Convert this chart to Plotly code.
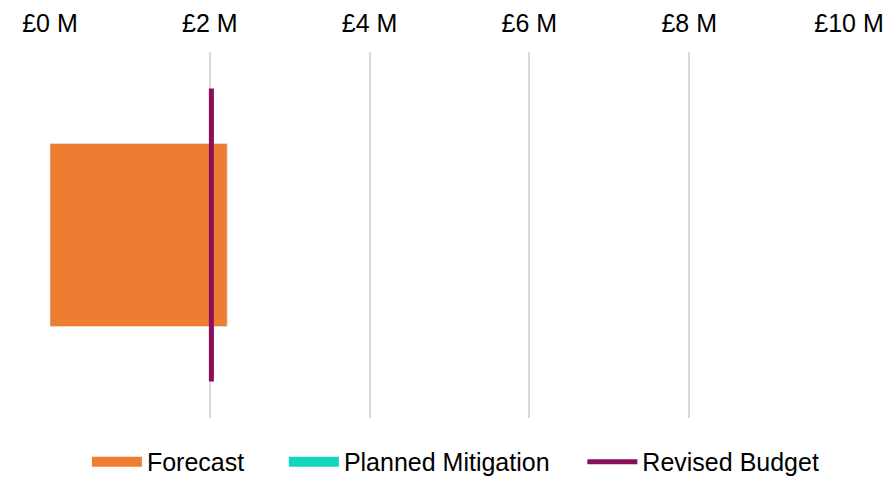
import plotly.graph_objects as go

# Data (values in £ millions)
category = ["Budget"]
forecast = [2.22]
planned_mitigation = [0.0]
revised_budget = [2.02]
tick_values = [0, 2, 4, 6, 8, 10]
tick_labels = ["£0 M", "£2 M", "£4 M", "£6 M", "£8 M", "£10 M"]
series_names = ["Forecast", "Planned Mitigation", "Revised Budget"]

ORANGE = "#ED7D31"
TEAL = "#12D6C0"
PURPLE = "#8B0E5B"
FONT = "Liberation Sans, Arial, sans-serif"

fig = go.Figure()

# bars (single category at y=0)
fig.add_trace(go.Bar(y=[0], x=forecast, orientation="h", marker_color=ORANGE,
                     width=0.5, name=series_names[0], showlegend=False))
fig.add_trace(go.Bar(y=[0], x=planned_mitigation, base=forecast, orientation="h",
                     marker_color=TEAL, width=0.5, name=series_names[1], showlegend=False))

# revised budget vertical line across the category band
fig.add_trace(go.Scatter(x=[revised_budget[0], revised_budget[0]], y=[-0.4, 0.4],
                         mode="lines", line=dict(color=PURPLE, width=5),
                         name=series_names[2], showlegend=False))

# legend entries (trailing spaces widen the gap between entries)
fig.add_trace(go.Scatter(x=[None], y=[None], mode="lines",
                         line=dict(color=ORANGE, width=16), name=series_names[0] + "     "))
fig.add_trace(go.Scatter(x=[None], y=[None], mode="lines",
                         line=dict(color=TEAL, width=16), name=series_names[1] + "    "))
fig.add_trace(go.Scatter(x=[None], y=[None], mode="lines",
                         line=dict(color=PURPLE, width=5), name=series_names[2]))

fig.update_layout(
    width=886, height=477,
    margin=dict(l=50, r=37, t=52, b=59, autoexpand=False),
    paper_bgcolor="white", plot_bgcolor="white",
    barmode="overlay",
    font=dict(family=FONT, size=25, color="#000000"),
    xaxis=dict(side="top", range=[0, 10], tickvals=tick_values, ticktext=tick_labels,
               showgrid=True, gridcolor="#D9D9D9", gridwidth=1.6, zeroline=False,
               showline=False, ticks="", tickfont=dict(size=25), ticklabelstandoff=14),
    yaxis=dict(range=[-0.5, 0.5], showticklabels=False, showgrid=False,
               zeroline=False, showline=False, ticks=""),
    legend=dict(orientation="h", x=0.508, xanchor="center", y=-0.12, yanchor="middle",
                font=dict(size=25), itemwidth=50, tracegroupgap=0),
)

fig.write_html("out.html")
